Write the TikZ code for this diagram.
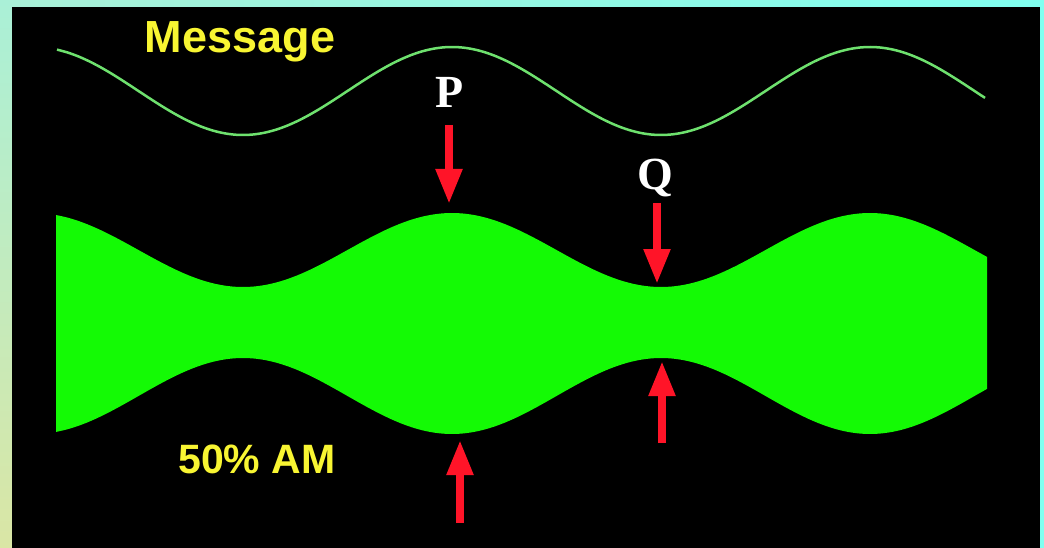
\documentclass[tikz,border=0pt]{standalone}
\usepackage{fontspec}
\usepackage{tikz}
\usetikzlibrary{arrows.meta}

\newfontfamily\sansbold{Liberation Sans}[BoldFont={* Bold}]
\newfontfamily\serifbold{Liberation Serif}[BoldFont={* Bold}]

\definecolor{framemint}{RGB}{170,240,215}
\definecolor{framecyan}{RGB}{128,255,240}
\definecolor{frameyellow}{RGB}{218,230,165}
\definecolor{msggreen}{RGB}{110,225,110}
\definecolor{amgreen}{RGB}{20,250,5}
\definecolor{labyellow}{RGB}{248,245,50}
\definecolor{arrowred}{RGB}{255,20,40}

\begin{document}
\begin{tikzpicture}[x=1pt, y=-1pt]
\useasboundingbox (0,0) rectangle (1044,548);

% frame and black screen
\shade[left color=framemint, right color=framecyan] (0,0) rectangle (1044,548);
\shade[top color=framemint, bottom color=frameyellow] (0,0) rectangle (12,548);
\fill[black] (12,7) rectangle (1040,548);

% message signal (period 418px, peak at x=452)
\draw[msggreen, line width=2.5pt, smooth]
  plot[domain=57:985, samples=90] (\x, {91-44*cos(0.8612*(\x-452))});

% 50% AM carrier, filled between its two envelopes
\fill[amgreen, smooth]
  plot[domain=56:987, samples=90] (\x, {250-37*cos(0.8612*(\x-452))})
  -- plot[domain=987:56, samples=90] (\x, {396+38*cos(0.8612*(\x-452))})
  -- cycle;

% labels
\node[text=labyellow, anchor=base, font=\sansbold\bfseries\fontsize{45}{45}\selectfont] (msg) at (240,53) {Message};
\node[text=labyellow, anchor=base, font=\sansbold\bfseries\fontsize{41}{41}\selectfont] (am) at (257,473) {50\% AM};
\node[text=white, anchor=base, font=\serifbold\bfseries\fontsize{46}{46}\selectfont] (P) at (450,108) {P};
\node[text=white, anchor=base, font=\serifbold\bfseries\fontsize{46}{46}\selectfont] (Q) at (655,190) {Q};

% red arrows at the peak (P) and the trough (Q)
\coordinate (Ptail) at (449,125);
\coordinate (Ptip) at (449,204);
\coordinate (Qtail) at (657,203);
\coordinate (Qtip) at (657,284);
\coordinate (Pbtail) at (460,523);
\coordinate (Pbtip) at (460,440);
\coordinate (Qbtail) at (662,443);
\coordinate (Qbtip) at (662,361);

\foreach \a/\b in {Ptail/Ptip, Qtail/Qtip, Pbtail/Pbtip, Qbtail/Qbtip}
  \draw[arrowred, line width=8pt, -{Triangle[width=25pt, length=35pt]}] (\a) -- (\b);

\end{tikzpicture}
\end{document}
